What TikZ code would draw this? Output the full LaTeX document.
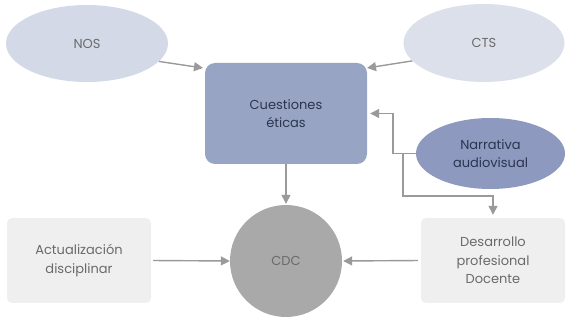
\documentclass[tikz,border=0pt]{standalone}
\usepackage{fontspec}
\setmainfont{Poppins}
\usetikzlibrary{shapes.geometric,arrows.meta}
\definecolor{ellL}{HTML}{D3D9E7}
\definecolor{ellR}{HTML}{DCE0EA}
\definecolor{cueF}{HTML}{98A4C4}
\definecolor{narF}{HTML}{8D99BF}
\definecolor{cdcF}{HTML}{A9A9A9}
\definecolor{boxF}{HTML}{EFEFEF}
\definecolor{arr}{HTML}{9A9A9A}
\definecolor{txtG}{HTML}{6A6A6A}
\definecolor{txtD}{HTML}{2B3550}
\begin{document}
\begin{tikzpicture}[x=1pt,y=-1pt,
  lbl/.style={align=center,font=\fontsize{13}{18.5}\selectfont,inner sep=0pt},
  ovalbox/.style={ellipse,lbl,draw=none},
  arrowline/.style={draw=arr,line width=1.4pt,-{Triangle[length=9pt,width=9pt]}},
  plainline/.style={draw=arr,line width=1.4pt}
]
\useasboundingbox (0,0) rectangle (571,323);
\node[ovalbox,fill=ellL,text=txtG,minimum width=162pt,minimum height=77pt] (nos) at (87,43.5) {NOS};
\node[ovalbox,fill=ellR,text=txtG,minimum width=161pt,minimum height=78pt] (cts) at (484,43) {CTS};
\node[lbl,rectangle,rounded corners=10pt,fill=cueF,text=txtD,minimum width=162pt,minimum height=101pt] (cue) at (286,113.5) {Cuestiones\\éticas};
\node[ovalbox,fill=narF,text=txtD,minimum width=149pt,minimum height=71pt] (nar) at (490.5,153.5) {Narrativa\\audiovisual};
\node[ovalbox,fill=cdcF,text=txtG,minimum width=112pt,minimum height=112pt] (cdc) at (286,261) {CDC};
\node[lbl,rectangle,rounded corners=5pt,fill=boxF,text=txtG,minimum width=144pt,minimum height=85pt] (act) at (79,260.5) {Actualización\\disciplinar};
\node[lbl,rectangle,rounded corners=5pt,fill=boxF,text=txtG,minimum width=144pt,minimum height=85pt] (des) at (493,260.5) {Desarrollo\\profesional\\Docente};
\coordinate (cueNW) at (203,68);
\coordinate (cueNE) at (367,68);
\coordinate (bend1) at (393,153.5);
\coordinate (branch) at (403,153.5);
\coordinate (bend2) at (403,196);
\coordinate (bend3) at (493,196);
\draw[arrowline] (nos.-14) -- (cueNW);
\draw[arrowline] (cts.194) -- (cueNE);
\draw[arrowline,shorten >=1pt] (cue.south) -- (cdc.north);
\draw[arrowline,shorten <=2pt] (act.east) -- (cdc.west);
\draw[arrowline,shorten <=3pt,shorten >=1pt] (des.west) -- (cdc.east);
\draw[arrowline,shorten >=3pt] (nar.west) -- (bend1) |- (cue.east);
\draw[arrowline,shorten >=3pt] (branch) -- (bend2) -- (bend3) -- (des.north);
\end{tikzpicture}
\end{document}
